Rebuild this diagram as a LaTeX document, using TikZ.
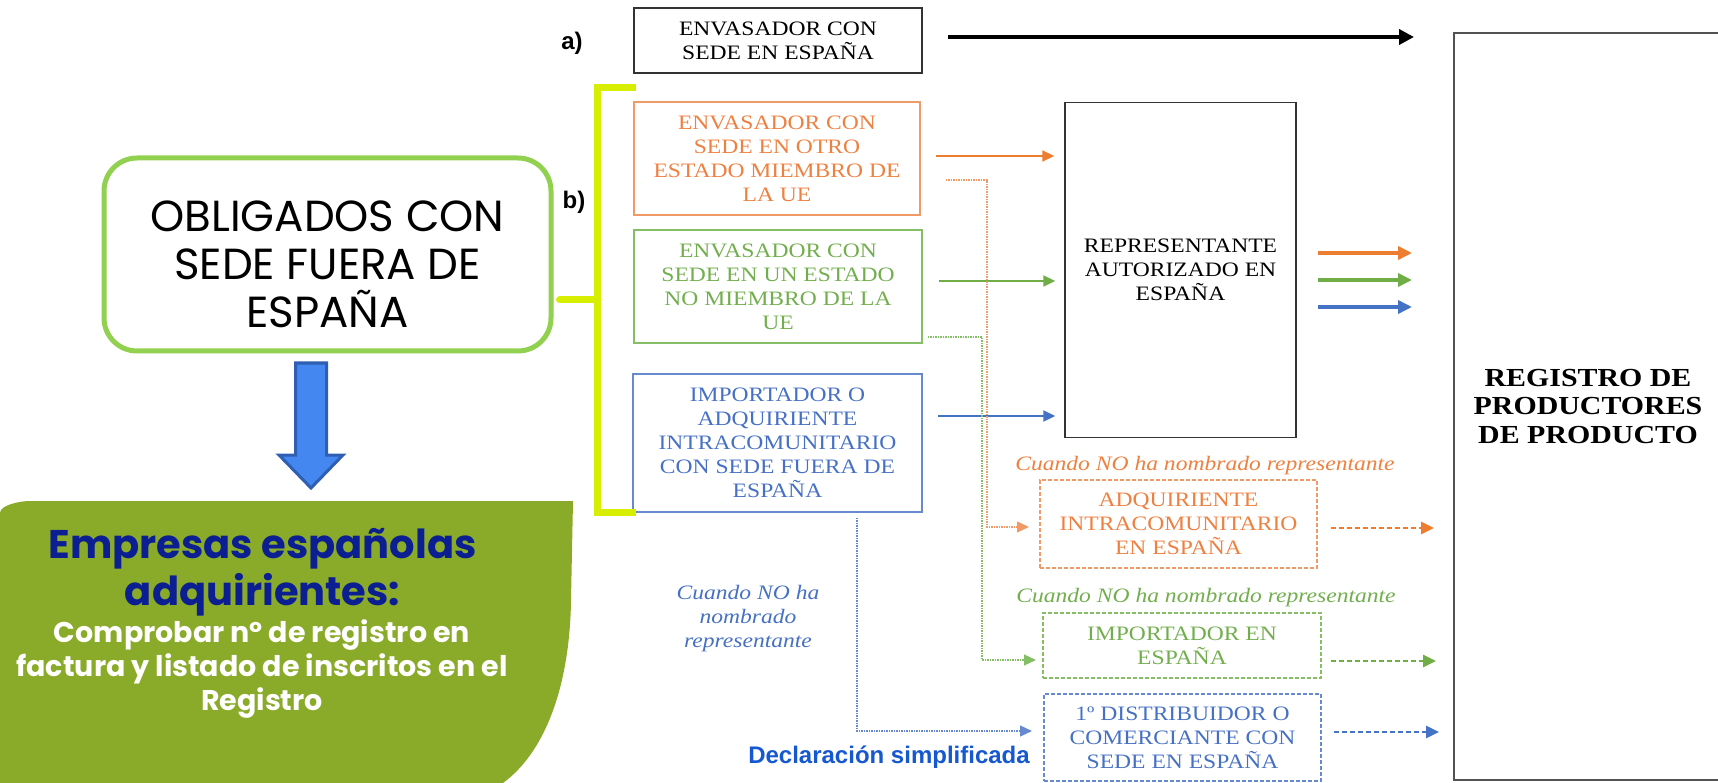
\documentclass[tikz,border=0pt]{standalone}
\usepackage{fontspec}
\setmainfont{Liberation Serif}
\newfontfamily\tnr[FakeStretch=1.15]{Liberation Serif}
\newfontfamily\pop{Poppins}
\newfontfamily\ars{Liberation Sans}
\usetikzlibrary{arrows.meta}
\definecolor{leafgreen}{HTML}{8AAA2A}
\definecolor{oblgreen}{HTML}{92D050}
\definecolor{arrowblue}{HTML}{4487F0}
\definecolor{arrowblueb}{HTML}{2F5FB3}
\definecolor{empblue}{HTML}{0B1F92}
\definecolor{bracketc}{HTML}{D8EE00}
\definecolor{myor}{HTML}{ED7D31}
\definecolor{mygr}{HTML}{70AD47}
\definecolor{mybl}{HTML}{4472C4}
\definecolor{ortext}{HTML}{EE8040}
\definecolor{grtext}{HTML}{72AE4E}
\definecolor{bltext}{HTML}{4670C4}
\definecolor{orline}{HTML}{F09A68}
\definecolor{grline}{HTML}{86BE66}
\definecolor{blline}{HTML}{6689CF}
\definecolor{boxgray}{HTML}{333333}
\definecolor{declblue}{HTML}{1558D0}
\tikzset{
  tbox/.style={draw, rectangle, inner sep=0pt, align=center, font=\tnr\fontsize{20.5}{24}\selectfont},
  itl/.style={inner sep=0pt, align=center, font=\tnr\itshape\fontsize{20.5}{24}\selectfont},
  dbox/.style={tbox, line width=2pt, dash pattern=on 4pt off 2pt},
  lab/.style={inner sep=0pt, font=\ars\bfseries\fontsize{24}{28}\selectfont},
  bracket/.style={draw=bracketc, line width=7pt},
  inarrow/.style={line width=2.2pt, -{Triangle[length=12pt,width=11pt]}},
  outarrow/.style={line width=4pt, -{Triangle[length=14pt,width=13pt]}},
  dotarrow/.style={line width=1.3pt, dash pattern=on 1.5pt off 1pt, -{Triangle[length=12pt,width=11pt]}},
  dasharrow/.style={line width=2.5pt, dash pattern=on 5pt off 3pt, -{Triangle[length=13pt,width=12pt]}}
}
\begin{document}
\begin{tikzpicture}[x=1pt,y=-1pt]
\useasboundingbox (0,0) rectangle (1718,783);

% left green leaf shape
\fill[leafgreen] (0,513) .. controls (0,505) and (20,501) .. (30,501) -- (573,501) -- (571,600)
  .. controls (570,680) and (548,750) .. (503,783) -- (0,783) -- cycle;

\node[draw=oblgreen, line width=5pt, rounded corners=33pt, minimum width=447pt, minimum height=193pt,
  inner sep=0pt] (obl) at (327.5,254.5) {};
\node[inner sep=0pt, align=center, font=\pop\fontsize{43.5}{48}\selectfont] (obltext) at ([yshift=-10pt]obl.center)
  {OBLIGADOS CON\\SEDE FUERA DE\\ESPAÑA};

% blue block arrow
\draw[fill=arrowblue, draw=arrowblueb, line width=3pt, line join=miter]
  (295.5,363) -- (326.5,363) -- (326.5,455) -- (343,455) -- (311,488) -- (279,455) -- (295.5,455) -- cycle;

\node[inner sep=0pt, align=center, text=empblue, font=\pop\bfseries\fontsize{40}{47}\selectfont] (emp) at (262.5,572)
  {Empresas españolas\\adquirientes:};
\node[inner sep=0pt, align=center, text=white, font=\pop\bfseries\fontsize{28.5}{34}\selectfont] (emp2) at (262,669)
  {Comprobar nº de registro en\\factura y listado de inscritos en el\\Registro};

% labels
\node[lab] (la) at (572,43) {a)};
\node[lab] (lb) at (574,202) {b)};

% source boxes
\node[tbox, draw=boxgray, line width=1.5pt, minimum width=288pt, minimum height=65pt] (boxA) at (778,40.5)
  {ENVASADOR CON\\SEDE EN ESPAÑA};
\node[tbox, draw=orline, text=ortext, line width=1.8pt, minimum width=286pt, minimum height=113pt] (boxOr) at (777,158.5)
  {ENVASADOR CON\\SEDE EN OTRO\\ESTADO MIEMBRO DE\\LA UE};
\node[tbox, draw=grline, text=grtext, line width=1.8pt, minimum width=288pt, minimum height=113pt] (boxGr) at (778,286.5)
  {ENVASADOR CON\\SEDE EN UN ESTADO\\NO MIEMBRO DE LA\\UE};
\node[tbox, draw=blline, text=bltext, line width=1.8pt, minimum width=289pt, minimum height=138pt] (boxBl) at (777.5,443)
  {IMPORTADOR O\\ADQUIRIENTE\\INTRACOMUNITARIO\\CON SEDE FUERA DE\\ESPAÑA};

% bracket
\draw[bracket] (636,88) -- (597,88) -- (597,512) -- (636,512);
\draw[bracket, line cap=round] ([xshift=6pt,yshift=-45.5pt]obl.east) -- (597,300);

% representative and register
\node[tbox, draw=boxgray, line width=1.5pt, minimum width=231pt, minimum height=335pt] (rep) at (1180.5,270)
  {REPRESENTANTE\\AUTORIZADO EN\\ESPAÑA};
\node[tbox, draw=boxgray!85, line width=2pt, minimum width=268pt, minimum height=747pt,
  font=\tnr\bfseries\fontsize{26}{28.5}\selectfont] (reg) at (1588,406.5)
  {REGISTRO DE\\PRODUCTORES\\DE PRODUCTO};

% fallback boxes
\node[itl, text=ortext] (lOr) at (1205,466) {Cuando NO ha nombrado representante};
\node[dbox, draw=orline, text=ortext, minimum width=277pt, minimum height=88pt] (adq) at (1178.5,524)
  {ADQUIRIENTE\\INTRACOMUNITARIO\\EN ESPAÑA};
\node[itl, text=grtext] (lGr) at (1206,598) {Cuando NO ha nombrado representante};
\node[dbox, draw=grline, text=grtext, minimum width=278pt, minimum height=65pt] (imp) at (1182,645.5)
  {IMPORTADOR EN\\ESPAÑA};
\node[dbox, draw=blline, text=bltext, minimum width=277pt, minimum height=87pt] (dist) at (1182.5,737.5)
  {1º DISTRIBUIDOR O\\COMERCIANTE CON\\SEDE EN ESPAÑA};
\node[itl, text=bltext] (lBl) at (748,619) {Cuando NO ha\\nombrado\\representante};
\node[inner sep=0pt, text=declblue, font=\ars\bfseries\fontsize{24}{28}\selectfont] (decl) at (889,757)
  {Declaración simplificada};

% connectors
\coordinate (aOut) at ([yshift=3.5pt]boxA.east);
\draw[line width=4pt, -{Triangle[length=15pt,width=15pt]}, shorten <=25pt, shorten >=39pt] (aOut) -- (aOut -| reg.west);

\coordinate (orIn) at ([yshift=2.5pt]boxOr.east);
\draw[inarrow, myor, shorten <=15pt, shorten >=10pt] (orIn) -- (orIn -| rep.west);
\coordinate (grIn) at ([yshift=5.5pt]boxGr.east);
\draw[inarrow, mygr, shorten <=16pt, shorten >=9pt] (grIn) -- (grIn -| rep.west);
\coordinate (blIn) at ([yshift=27pt]boxBl.east);
\draw[inarrow, mybl, shorten <=15pt, shorten >=9pt] (blIn) -- (blIn -| rep.west);

\coordinate (orOut) at ([yshift=17pt]rep.east);
\draw[outarrow, myor, shorten <=21pt, shorten >=41pt] (orOut) -- (orOut -| reg.west);
\coordinate (grOut) at ([yshift=-10pt]rep.east);
\draw[outarrow, mygr, shorten <=21pt, shorten >=41pt] (grOut) -- (grOut -| reg.west);
\coordinate (blOut) at ([yshift=-37pt]rep.east);
\draw[outarrow, mybl, shorten <=21pt, shorten >=41pt] (blOut) -- (blOut -| reg.west);

\draw[dotarrow, orline] ([xshift=25pt,yshift=-21.5pt]boxOr.east) -| ([xshift=-52pt,yshift=-3pt]adq.west)
  -- ([xshift=-10pt,yshift=-3pt]adq.west);
\draw[dotarrow, grline] ([xshift=5pt,yshift=-50.5pt]boxGr.east) -| ([xshift=-60pt,yshift=-14.5pt]imp.west)
  -- ([xshift=-6pt,yshift=-14.5pt]imp.west);
\draw[dotarrow, blline] ([xshift=79.5pt,yshift=-5pt]boxBl.south) |- ([xshift=-11pt,yshift=6.5pt]dist.west);

\coordinate (adqOut) at ([yshift=-4pt]adq.east);
\draw[dasharrow, myor, shorten <=13pt, shorten >=19pt] (adqOut) -- (adqOut -| reg.west);
\coordinate (impOut) at ([yshift=-15.5pt]imp.east);
\draw[dasharrow, mygr, shorten <=9pt, shorten >=17pt] (impOut) -- (impOut -| reg.west);
\coordinate (distOut) at ([yshift=5.5pt]dist.east);
\draw[dasharrow, mybl, shorten <=12pt, shorten >=14pt] (distOut) -- (distOut -| reg.west);
\end{tikzpicture}
\end{document}
